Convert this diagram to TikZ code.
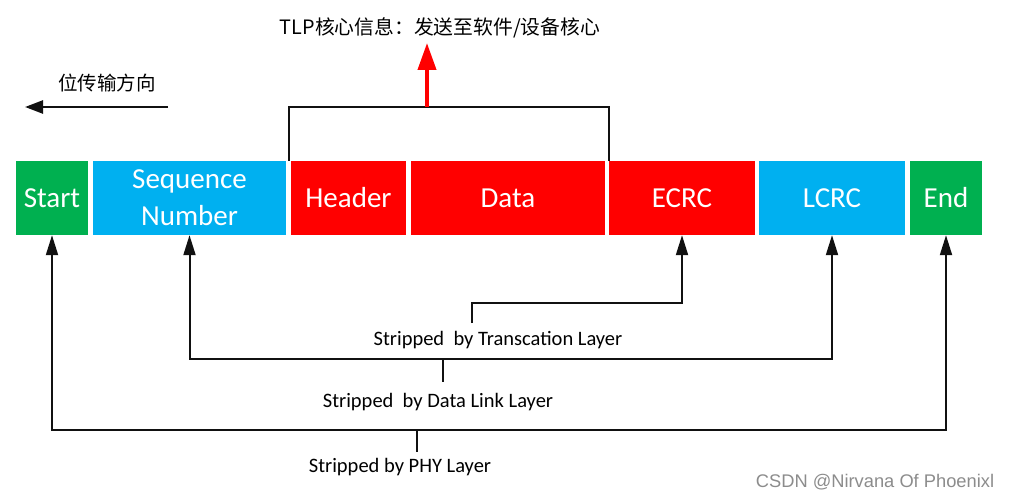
\documentclass[tikz,border=0pt]{standalone}
\usepackage{fontspec}
\setmainfont{Carlito}
\newfontfamily\cjk{Noto Sans CJK SC}
\newfontfamily\wmfont{Liberation Sans}
\usetikzlibrary{arrows.meta}
\definecolor{fgreen}{HTML}{00B050}
\definecolor{fblue}{HTML}{00B0F0}
\definecolor{fred}{HTML}{FF0000}
\definecolor{linec}{HTML}{111111}
\begin{document}
\begin{tikzpicture}[x=1pt,y=-1pt,
  field/.style={minimum height=74pt, inner sep=0pt, text=white,
    font=\fontsize{29}{37}\selectfont, align=center, anchor=center},
  gfield/.style={field, fill=fgreen},
  bfield/.style={field, fill=fblue},
  rfield/.style={field, fill=fred},
  conn/.style={line width=2pt, draw=linec},
  tip/.style={-{Triangle[length=20pt,width=12pt]}},
  dtip/.style={{Triangle[length=20pt,width=12pt]}-{Triangle[length=20pt,width=12pt]}},
  lbl/.style={font=\fontsize{20.5}{24}\selectfont, text=black, inner sep=2pt},
  bracket/.style={line width=2.5pt, draw=linec},
  redarrow/.style={line width=4pt, draw=fred, -{Triangle[length=27pt,width=18pt]}}
]
\useasboundingbox (0,0) rectangle (1011,497);

% fields
\node[gfield, minimum width=72pt]  (start) at (52,198)    {Start};
\node[bfield, minimum width=193pt] (seq)   at (189.5,198) {Sequence\\Number};
\node[rfield, minimum width=115pt] (hdr)   at (348.5,198) {Header};
\node[rfield, minimum width=194pt] (data)  at (508,198)   {Data};
\node[rfield, minimum width=146pt] (ecrc)  at (682,198)   {ECRC};
\node[bfield, minimum width=146pt] (lcrc)  at (832,198)   {LCRC};
\node[gfield, minimum width=72pt]  (endf)  at (946,198)   {End};

% top: TLP core information
\node[font=\cjk\fontsize{19.8}{23}\selectfont] (tlp) at (440,28) {TLP核心信息：发送至软件/设备核心};
\coordinate (rbase) at (427,107);
\coordinate (rtip) at (427,43);
\draw[bracket] ([xshift=-2pt]hdr.north west) |- ([yshift=54pt]ecrc.north west) -- (ecrc.north west);
\draw[redarrow] (rbase) -- (rtip);

% bit direction
\node[font=\cjk\fontsize{19.5}{23}\selectfont] (dir) at (107,83) {位传输方向};
\coordinate (dirA) at (168,107);
\coordinate (dirB) at (25,107);
\draw[line width=2.5pt, draw=linec, -{Triangle[length=18pt,width=13pt]}] (dirA) -- (dirB);

% Transaction layer
\node[lbl] (tll) at (498,340) {Stripped\ \ by Transcation Layer};
\coordinate (tlstem) at (472,323);
\coordinate (tlbar) at (0,303);
\draw[conn, tip] (tlstem) |- (ecrc.south |- tlbar) -- (ecrc.south);

% Data link layer
\node[lbl] (dll) at (438,402) {Stripped\ \ by Data Link Layer};
\coordinate (dlbar) at (0,359);
\coordinate (dlstem) at (443,359);
\coordinate (dlstemend) at (443,382);
\draw[conn, dtip] (seq.south) -- (seq.south |- dlbar) -| (lcrc.south);
\draw[conn] (dlstem) -- (dlstemend);

% PHY layer
\node[lbl] (phyl) at (400,467) {Stripped by PHY Layer};
\coordinate (phybar) at (0,430);
\coordinate (phystem) at (417,430);
\coordinate (phystemend) at (417,452);
\draw[conn, dtip] (start.south) -- (start.south |- phybar) -| (endf.south);
\draw[conn] (phystem) -- (phystemend);

% watermark
\node[font=\wmfont\fontsize{18.3}{21}\selectfont, text=black!45] (wm) at (875,482) {CSDN @Nirvana Of Phoenixl};
\end{tikzpicture}
\end{document}
